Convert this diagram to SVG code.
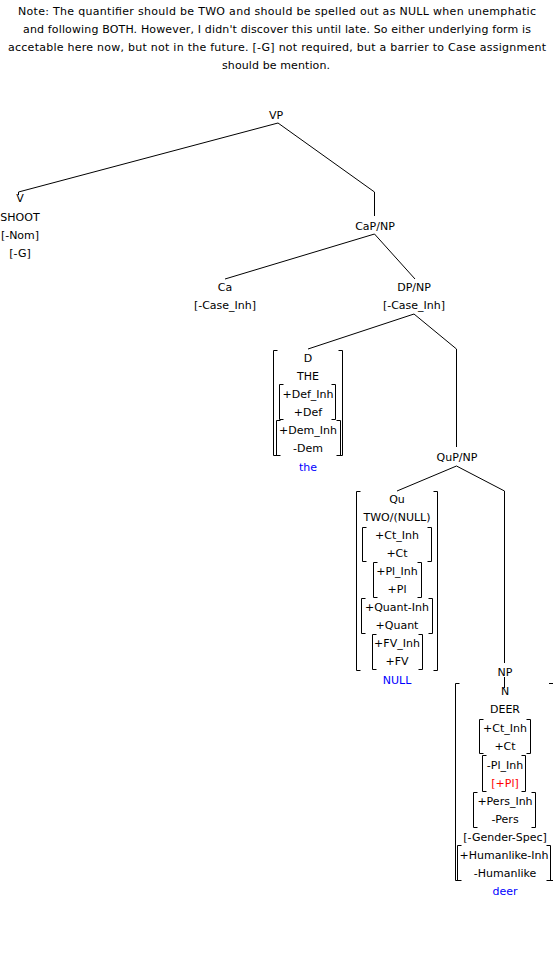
<svg xmlns="http://www.w3.org/2000/svg" width="553" height="957" viewBox="0 0 553 957">
<style>
text{font-family:"DejaVu Sans","Liberation Sans",sans-serif;font-size:11px;fill:#000;text-anchor:middle}
.blue{fill:#0000ff}
.red{fill:#ff0000}
.ln{fill:none;stroke:#000;stroke-width:1}
.br{fill:none;stroke:#000;stroke-width:1}
</style>
<rect width="553" height="957" fill="#fff"/>
<g id="note">
<text x="277" y="15" textLength="518" lengthAdjust="spacing">Note: The quantifier should be TWO and should be spelled out as NULL when unemphatic</text>
<text x="277" y="33" textLength="508" lengthAdjust="spacing">and following BOTH. However, I didn't discover this until late. So either underlying form is</text>
<text x="277" y="51" textLength="538" lengthAdjust="spacing">accetable here now, but not in the future. [-G] not required, but a barrier to Case assignment</text>
<text x="276" y="69" textLength="108" lengthAdjust="spacing">should be mention.</text>
</g>
<g id="connectors">
<polyline class="ln" points="278,123 18.5,192 18.5,195"/>
<polyline class="ln" points="278,123 374.5,192 374.5,216"/>
<polyline class="ln" points="374.5,234 225,279"/>
<polyline class="ln" points="374.5,234 415,279"/>
<polyline class="ln" points="414,314 308,349"/>
<polyline class="ln" points="414,314 456.5,349 456.5,447"/>
<polyline class="ln" points="456.5,466 397,491"/>
<polyline class="ln" points="456.5,466 504.5,491 504.5,663"/>
<polyline class="ln" points="504.5,677 504.5,688"/>
</g>
<g id="VP"><text x="276" y="119">VP</text></g>
<g id="V">
<text x="20" y="202">V</text>
<text x="20" y="221">SHOOT</text>
<text x="20" y="239">[-Nom]</text>
<text x="20" y="257">[-G]</text>
</g>
<g id="CaP"><text x="375" y="230">CaP/NP</text></g>
<g id="Ca">
<text x="225" y="291">Ca</text>
<text x="225" y="309">[-Case_Inh]</text>
</g>
<g id="DP">
<text x="414" y="291">DP/NP</text>
<text x="414" y="309">[-Case_Inh]</text>
</g>
<g id="D">
<path class="br" d="M277.5,350.5H273.5V455.5H277.5M338.5,350.5H342.5V455.5H338.5"/>
<path class="br" d="M283.5,384.5H279.5V419.5H283.5M331.5,384.5H335.5V419.5H331.5"/>
<path class="br" d="M280.5,420.5H276.5V455.5H280.5M336.5,420.5H340.5V455.5H336.5"/>
<text x="308" y="362">D</text>
<text x="308" y="380">THE</text>
<text x="308" y="398">+Def_Inh</text>
<text x="308" y="416">+Def</text>
<text x="308" y="434">+Dem_Inh</text>
<text x="308" y="452">-Dem</text>
<text class="blue" x="308" y="471">the</text>
</g>
<g id="QuP"><text x="457" y="461">QuP/NP</text></g>
<g id="Qu">
<path class="br" d="M360.5,491.5H356.5V670.5H360.5M433.5,491.5H437.5V670.5H433.5"/>
<path class="br" d="M366.5,527.5H362.5V561.5H366.5M427.5,527.5H431.5V561.5H427.5"/>
<path class="br" d="M377.5,562.5H373.5V597.5H377.5M417.5,562.5H421.5V597.5H417.5"/>
<path class="br" d="M365.5,598.5H361.5V633.5H365.5M428.5,598.5H432.5V633.5H428.5"/>
<path class="br" d="M376.5,634.5H372.5V669.5H376.5M418.5,634.5H422.5V669.5H418.5"/>
<text x="397" y="503">Qu</text>
<text x="397" y="521">TWO/(NULL)</text>
<text x="397" y="539">+Ct_Inh</text>
<text x="397" y="557">+Ct</text>
<text x="397" y="575">+Pl_Inh</text>
<text x="397" y="593">+Pl</text>
<text x="397" y="611">+Quant-Inh</text>
<text x="397" y="629">+Quant</text>
<text x="397" y="647">+FV_Inh</text>
<text x="397" y="665">+FV</text>
<text class="blue" x="397" y="684">NULL</text>
</g>
<g id="NP"><text x="505" y="676">NP</text></g>
<g id="N">
<path class="br" d="M459.5,683.5H455.5V880.5H459.5M549,683.5H553.5V880.5H549"/>
<path class="br" d="M483.5,719.5H479.5V753.5H483.5M526.5,719.5H530.5V753.5H526.5"/>
<path class="br" d="M486.5,755.5H482.5V791.5H486.5M521.5,755.5H525.5V791.5H521.5"/>
<path class="br" d="M477.5,792.5H473.5V827.5H477.5M531.5,792.5H535.5V827.5H531.5"/>
<path class="br" d="M461.5,845.5H457.5V880.5H461.5M546.5,845.5H550.5V880.5H546.5"/>
<text x="505" y="695">N</text>
<text x="505" y="713">DEER</text>
<text x="505" y="732">+Ct_Inh</text>
<text x="505" y="750">+Ct</text>
<text x="505" y="769">-Pl_Inh</text>
<text class="red" x="505" y="787">[+Pl]</text>
<text x="505" y="805">+Pers_Inh</text>
<text x="505" y="823">-Pers</text>
<text x="505" y="841">[-Gender-Spec]</text>
<text x="504" y="859">+Humanlike-Inh</text>
<text x="505" y="877">-Humanlike</text>
<text class="blue" x="505" y="895">deer</text>
</g>
</svg>
